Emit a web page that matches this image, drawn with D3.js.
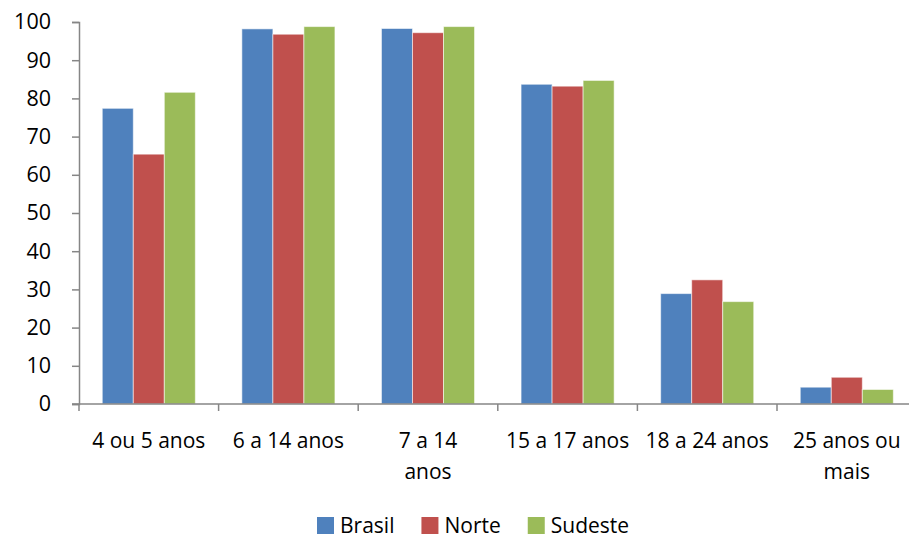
<!DOCTYPE html>
<html>
<head>
<meta charset="utf-8">
<script src="https://cdn.jsdelivr.net/npm/d3@7"></script>
<style>
  body { margin: 0; background: #fff; }
  text { font-family: "Open Sans", sans-serif; fill: #000; }
</style>
</head>
<body>
<div id="chart"></div>
<script>
const categories = [['4 ou 5 anos'], ['6 a 14 anos'], ['7 a 14', 'anos'], ['15 a 17 anos'], ['18 a 24 anos'], ['25 anos ou', 'mais']];
const series = ['Brasil', 'Norte', 'Sudeste'];
const brasil = [77.4, 98.2, 98.3, 83.7, 28.9, 4.4];
const norte = [65.4, 96.8, 97.2, 83.2, 32.5, 7.0];
const sudeste = [81.6, 98.8, 98.8, 84.7, 26.8, 3.8];
const yTicks = [0, 10, 20, 30, 40, 50, 60, 70, 80, 90, 100];
const colors = ['#4f81bd', '#c0504d', '#9bbb59'];

const width = 909;
const height = 539;
const margin = { top: 22, left: 79, bottom: 135 };
const plotRight = 916.6;

const values = [brasil, norte, sudeste];
const rows = categories.map((c, i) => ({ i, label: c, vals: values.map(v => v[i]) }));

const svg = d3.select('#chart')
    .append('svg')
    .attr('width', width)
    .attr('height', height);

const x0 = d3.scaleBand()
    .domain(d3.range(categories.length))
    .range([margin.left, plotRight])
    .padding(0);

// gap width 150% like the original spreadsheet chart
const barW = x0.bandwidth() / 4.5;
const x1 = d3.scaleBand()
    .domain(d3.range(series.length))
    .range([barW * 0.75, x0.bandwidth() - barW * 0.75]);

const y = d3.scaleLinear()
    .domain([0, 100])
    .range([height - margin.bottom, margin.top]);

// bars
svg.append('g')
    .selectAll('g')
    .data(rows)
    .enter()
    .append('g')
    .attr('transform', d => `translate(${x0(d.i)},0)`)
    .selectAll('rect')
    .data(d => d.vals.map((v, s) => ({ v, s })))
    .enter()
    .append('rect')
    .attr('x', d => x1(d.s))
    .attr('width', x1.bandwidth())
    .attr('y', d => y(d.v))
    .attr('height', d => y(0) - y(d.v))
    .attr('fill', d => colors[d.s])
    .attr('stroke', 'rgba(255,255,255,0.55)')
    .attr('stroke-width', 1);

// y axis
const yAxis = svg.append('g')
    .attr('transform', `translate(${margin.left},0)`)
    .call(d3.axisLeft(y).tickValues(yTicks).tickSize(7).tickPadding(21));
yAxis.select('.domain').attr('stroke', '#868686').attr('stroke-width', 1.5);
yAxis.selectAll('.tick line').attr('stroke', '#868686').attr('stroke-width', 1.5);
yAxis.selectAll('.tick text')
    .style('font-size', '21.5px')
    .style('font-family', '"Open Sans", sans-serif');

// x axis
const xEdges = d3.range(categories.length + 1).map(i => margin.left + i * x0.step());
const xAxis = svg.append('g');
xAxis.append('line')
    .attr('x1', margin.left - 7)
    .attr('x2', plotRight)
    .attr('y1', y(0))
    .attr('y2', y(0))
    .attr('stroke', '#868686')
    .attr('stroke-width', 1.5);
xAxis.selectAll('.xt')
    .data(xEdges)
    .enter()
    .append('line')
    .attr('x1', d => d)
    .attr('x2', d => d)
    .attr('y1', y(0))
    .attr('y2', y(0) + 7)
    .attr('stroke', '#868686')
    .attr('stroke-width', 1.5);

const lbl = xAxis.selectAll('.xl')
    .data(rows)
    .enter()
    .append('text')
    .attr('text-anchor', 'middle')
    .attr('x', d => x0(d.i) + x0.bandwidth() / 2)
    .attr('y', 448)
    .style('font-size', '21px');
lbl.selectAll('tspan')
    .data(d => d.label.map(t => ({ t, x: x0(d.i) + x0.bandwidth() / 2 })))
    .enter()
    .append('tspan')
    .attr('x', d => d.x)
    .attr('dy', (d, k) => k === 0 ? 0 : 31)
    .text(d => d.t);

// legend
const legend = svg.append('g').attr('transform', 'translate(317,517)');
let lx = 0;
series.forEach((s, i) => {
    const g = legend.append('g').attr('transform', `translate(${lx},0)`);
    g.append('rect')
        .attr('width', 17)
        .attr('height', 17)
        .attr('fill', colors[i]);
    const t = g.append('text')
        .attr('x', 23)
        .attr('y', 16)
        .style('font-size', '21px')
        .text(s);
    lx += 23 + t.node().getComputedTextLength() + 27;
});
</script>
</body>
</html>
